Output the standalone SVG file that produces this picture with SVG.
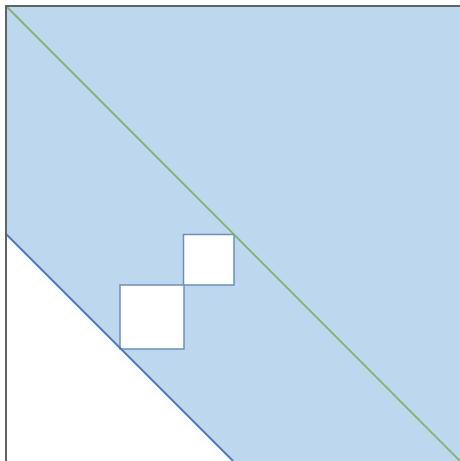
<svg xmlns="http://www.w3.org/2000/svg" width="460" height="461" viewBox="0 0 460 461">
<style>
.region{fill:#bdd7ee;stroke:none}
.hole{fill:#ffffff;stroke:#6c8ebf;stroke-width:1.5}
.axis{stroke:#5f6368;stroke-width:2;fill:none}
</style>
<rect width="460" height="461" fill="#ffffff"/>
<g id="band">
<polygon class="region" points="6,6 460,6 460,461 233,461 6,234"/>
</g>
<g id="squares">
<rect id="sq-small" class="hole" x="183.5" y="234.5" width="50.5" height="50.5"/>
<rect id="sq-large" class="hole" x="120" y="285" width="64" height="64"/>
</g>
<g id="connectors">
<line x1="6" y1="234" x2="233" y2="461" stroke="#4a72c0" stroke-width="1.8"/>
<line x1="6" y1="6" x2="460" y2="461" stroke="#82b366" stroke-width="1.8"/>
<polyline class="axis" points="6,461 6,6 460,6"/>
</g>
</svg>
